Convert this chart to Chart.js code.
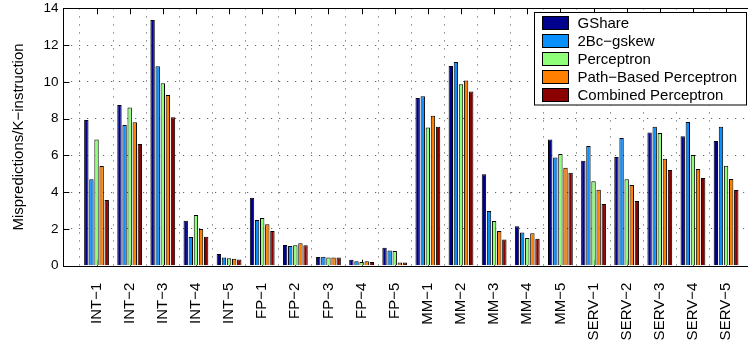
<!DOCTYPE html>
<html><head><meta charset="utf-8">
<script src="https://cdn.jsdelivr.net/npm/chart.js@4/dist/chart.umd.min.js"></script>
<style>html,body{margin:0;padding:0;overflow:hidden;background:#fff}#wrap{width:770px;height:347px}</style>
</head><body><div id="wrap"><canvas id="c" width="770" height="347"></canvas></div>
<script>
const categories = ['INT−1','INT−2','INT−3','INT−4','INT−5','FP−1','FP−2','FP−3','FP−4','FP−5','MM−1','MM−2','MM−3','MM−4','MM−5','SERV−1','SERV−2','SERV−3','SERV−4','SERV−5'];
const seriesNames = ['GShare','2Bc−gskew','Perceptron','Path−Based Perceptron','Combined Perceptron'];
const gshare     = [7.93,8.74,13.37,2.45,0.63,3.70,1.12,0.47,0.33,0.98,9.12,10.86,4.97,2.14,6.86,5.71,5.91,7.25,7.04,6.78];
const gskew      = [4.70,7.65,10.85,1.56,0.44,2.48,1.07,0.49,0.24,0.83,9.21,11.08,2.97,1.80,5.89,6.51,6.95,7.56,7.82,7.56];
const perceptron = [6.86,8.60,9.92,2.76,0.40,2.59,1.11,0.44,0.20,0.80,7.51,9.87,2.43,1.51,6.08,4.59,4.70,7.22,6.02,5.44];
const pathBased  = [5.42,7.80,9.29,1.99,0.38,2.25,1.22,0.44,0.24,0.18,8.16,10.07,1.89,1.76,5.33,4.13,4.39,5.82,5.26,4.72];
const combined   = [3.57,6.62,8.07,1.58,0.34,1.89,1.11,0.44,0.20,0.18,7.56,9.47,1.43,1.47,5.06,3.36,3.52,5.20,4.77,4.12];
const yTickMin = 0, yTickMax = 14, yTickStep = 2;
const yTitle = 'Mispredictions/K−instruction';

const colors = ['#00008f','#0a8fff','#8fff7a','#ff8000','#8b0000'];
const seriesValues = [gshare, gskew, perceptron, pathBased, combined];
const labels = [''].concat(categories, ['']);
const FONT = '"Liberation Sans", Arial, Helvetica, sans-serif';

const datasets = seriesValues.map((vals, i) => ({
  label: seriesNames[i],
  data: [null].concat(vals, [null]),
  backgroundColor: colors[i],
  borderColor: '#000',
  borderWidth: 1,
  categoryPercentage: 0.77,
  barPercentage: 0.86
}));

const frame = {
  id: 'frame',
  beforeDatasetsDraw(chart) {
    const ctx = chart.ctx, a = chart.chartArea, xs = chart.scales.x, ys = chart.scales.y;
    ctx.save();
    ctx.strokeStyle = '#000'; ctx.lineWidth = 1;
    ctx.beginPath();
    for (let i = 1; i <= categories.length; i++) {
      const px = Math.round(xs.getPixelForValue(i)) + 0.5;
      ctx.moveTo(px, a.top); ctx.lineTo(px, a.top + 6);
      ctx.moveTo(px, a.bottom); ctx.lineTo(px, a.bottom - 6);
    }
    for (let v = yTickMin + yTickStep; v < yTickMax; v += yTickStep) {
      const py = Math.round(ys.getPixelForValue(v)) + 0.5;
      ctx.moveTo(a.left, py); ctx.lineTo(a.left + 6, py);
      ctx.moveTo(a.right, py); ctx.lineTo(a.right - 6, py);
    }
    ctx.stroke();
    ctx.restore();
  },
  afterDatasetsDraw(chart) {
    const ctx = chart.ctx, a = chart.chartArea;
    const l = Math.round(a.left) + 0.5, r = Math.round(a.right) + 0.5, t = Math.round(a.top) + 0.5, b = Math.round(a.bottom) + 0.5;
    ctx.save();
    ctx.strokeStyle = '#000'; ctx.lineWidth = 1;
    ctx.strokeRect(l, t, r - l, b - t);
    // legend
    const x0 = 534.5, y0 = 12.5, w = 212, h = 92.5;
    ctx.fillStyle = '#fff'; ctx.fillRect(x0, y0, w, h); ctx.strokeRect(x0, y0, w, h);
    ctx.font = '15px ' + FONT; ctx.textBaseline = 'middle'; ctx.textAlign = 'left';
    chart.data.datasets.forEach((ds, i) => {
      const cy = 23 + i * 18;
      ctx.fillStyle = ds.backgroundColor;
      ctx.fillRect(542.5, cy - 6.5, 26, 13);
      ctx.strokeRect(542.5, cy - 6.5, 26, 13);
      ctx.fillStyle = '#000';
      ctx.fillText(ds.label, 577.5, cy + 0.5);
    });
    ctx.restore();
  }
};

new Chart(document.getElementById('c'), {
  type: 'bar',
  data: { labels, datasets },
  plugins: [frame],
  options: {
    responsive: false, animation: false, devicePixelRatio: 1,
    layout: { padding: { top: 8.3, right: 10.8, left: 0, bottom: 0 } },
    plugins: { legend: { display: false }, tooltip: { enabled: false } },
    scales: {
      x: {
        offset: false,
        afterFit(s) { s.height = 81.3; s.paddingLeft = 0; s.paddingRight = 0; },
        grid: {
          drawTicks: false,
          color: c => (c.index === 0 || c.index === labels.length - 1) ? 'rgba(0,0,0,0)' : 'rgba(0,0,0,0.6)',
          lineWidth: 1
        },
        border: { display: false, dash: [1.2, 6.8] },
        ticks: { autoSkip: false, maxRotation: 90, minRotation: 90, padding: 17, color: '#000', font: { family: FONT, size: 15 } }
      },
      y: {
        min: yTickMin, max: yTickMax,
        afterFit(s) { s.width = 63.4; s.paddingTop = 0; s.paddingBottom = 0; },
        grid: {
          drawTicks: false,
          color: c => (c.tick.value === yTickMin || c.tick.value === yTickMax) ? 'rgba(0,0,0,0)' : 'rgba(0,0,0,0.6)',
          lineWidth: 1
        },
        border: { display: false, dash: [1.2, 6.8] },
        ticks: { stepSize: yTickStep, padding: 5, color: '#000', font: { family: FONT, size: 13.5 } },
        title: { display: true, text: yTitle, color: '#000', font: { family: FONT, size: 15 }, padding: { top: 10, bottom: 0 } }
      }
    }
  }
});
</script></body></html>
